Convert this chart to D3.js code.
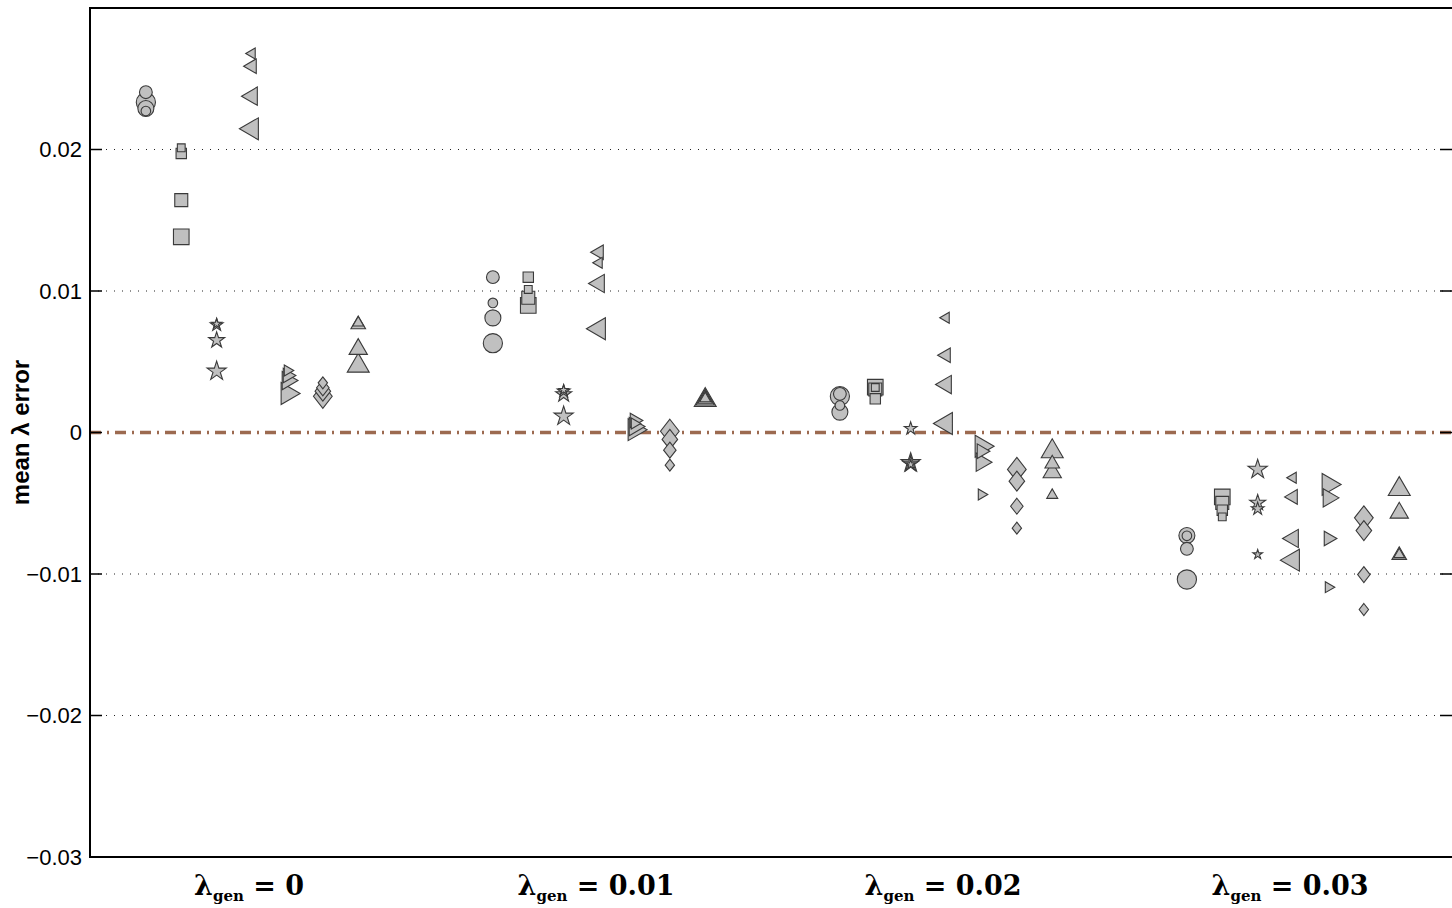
<!DOCTYPE html>
<html>
<head>
<meta charset="utf-8">
<script src="https://cdn.jsdelivr.net/npm/d3@7"></script>
<style>
  body { margin: 0; background: #fff; }
  svg { display: block; }
</style>
</head>
<body>
<div id="chart"></div>
<script>
//DATA
const groups = [0, 0.01, 0.02, 0.03];
const groupLabels = ['0', '0.01', '0.02', '0.03'];
const yTicks = [-0.03, -0.02, -0.01, 0, 0.01, 0.02];
const settings = [1, 2, 3, 4];

// one row per group, four runs each (value, setting)
const circleErr = [[0.02405, 0.02334, 0.02290, 0.02272], [0.01098, 0.00916, 0.00810, 0.00631], [0.00273, 0.00257, 0.00191, 0.00144], [-0.00728, -0.00730, -0.00822, -0.01039]];
const circleSet = [[2, 4, 3, 1], [2, 1, 3, 4], [2, 4, 1, 3], [3, 1, 2, 4]];
const squareErr = [[0.02012, 0.01972, 0.01642, 0.01383], [0.01098, 0.01011, 0.00952, 0.00898], [0.00320, 0.00318, 0.00304, 0.00238], [-0.00455, -0.00497, -0.00549, -0.00596]];
const squareSet = [[1, 2, 3, 4], [2, 1, 3, 4], [4, 1, 3, 2], [4, 3, 2, 1]];
const starErr = [[0.00768, 0.00760, 0.00652, 0.00433], [0.00300, 0.00292, 0.00270, 0.00115], [0.00028, -0.00214, -0.00222, -0.00226], [-0.00261, -0.00497, -0.00539, -0.00862]];
const starSet = [[1, 2, 3, 4], [1, 2, 3, 4], [2, 4, 3, 1], [4, 3, 2, 1]];
const leftErr = [[0.02678, 0.02589, 0.02377, 0.02146], [0.01274, 0.01199, 0.01053, 0.00733], [0.00811, 0.00546, 0.00339, 0.00064], [-0.00320, -0.00455, -0.00749, -0.00902]];
const leftSet = [[1, 2, 3, 4], [2, 1, 3, 4], [1, 2, 3, 4], [1, 2, 3, 4]];
const rightErr = [[0.00438, 0.00403, 0.00367, 0.00276], [0.00085, 0.00064, 0.00042, 0.00020], [-0.00097, -0.00132, -0.00210, -0.00438], [-0.00367, -0.00462, -0.00749, -0.01093]];
const rightSet = [[1, 2, 3, 4], [2, 1, 3, 4], [4, 2, 3, 1], [4, 3, 2, 1]];
const diamondErr = [[0.00351, 0.00316, 0.00292, 0.00256], [-0.00231, -0.00125, -0.00049, 0.00009], [-0.00261, -0.00344, -0.00521, -0.00676], [-0.00603, -0.00693, -0.01004, -0.01251]];
const diamondSet = [[1, 2, 3, 4], [1, 2, 3, 4], [4, 3, 2, 1], [4, 3, 2, 1]];
const upErr = [[0.00775, 0.00763, 0.00589, 0.00471], [0.00240, 0.00236, 0.00232, 0.00228], [-0.00134, -0.00221, -0.00283, -0.00443], [-0.00401, -0.00568, -0.00867, -0.00862]];
const upSet = [[1, 2, 3, 4], [1, 2, 3, 4], [4, 2, 3, 1], [4, 3, 2, 1]];

//MARKER SHAPES (size = marker size in points)
const circle = { draw(c, s) { const r = 0.8 * s; c.moveTo(r, 0); c.arc(0, 0, r, 0, 2 * Math.PI); } };
const square = { draw(c, s) { const h = 0.65 * s; c.rect(-h, -h, 2 * h, 2 * h); } };
const star = { draw(c, s) {
    const R = 0.84 * s, r = R * 0.382;
    for (let i = 0; i < 10; i++) {
        const a = -Math.PI / 2 + i * Math.PI / 5, rr = i % 2 ? r : R;
        i ? c.lineTo(rr * Math.cos(a), rr * Math.sin(a)) : c.moveTo(rr * Math.cos(a), rr * Math.sin(a));
    }
    c.closePath();
} };
const tri = dir => ({ draw(c, s) {
    const d = 1.58 * s, b = 0.915 * s;
    // apex direction, centroid at origin
    const pts = {
        left: [[-2 * d / 3, 0], [d / 3, -b], [d / 3, b]],
        right: [[2 * d / 3, 0], [-d / 3, -b], [-d / 3, b]],
        up: [[0, -2 * d / 3], [-b, d / 3], [b, d / 3]]
    }[dir];
    c.moveTo(...pts[0]); c.lineTo(...pts[1]); c.lineTo(...pts[2]); c.closePath();
} });
const diamond = { draw(c, s) { const w = 0.78 * s, h = 1.0 * s; c.moveTo(0, -h); c.lineTo(w, 0); c.lineTo(0, h); c.lineTo(-w, 0); c.closePath(); } };

const series = [
    { type: circle, err: circleErr, set: circleSet },
    { type: square, err: squareErr, set: squareSet },
    { type: star, err: starErr, set: starSet },
    { type: tri('left'), err: leftErr, set: leftSet },
    { type: tri('right'), err: rightErr, set: rightSet },
    { type: diamond, err: diamondErr, set: diamondSet },
    { type: tri('up'), err: upErr, set: upSet }
];

//LAYOUT
const width = 1452, height = 908;
const margin = { top: 8, right: 0, bottom: 51, left: 90 };
const offsetStep = 0.00102;

const x = d3.scaleLinear().domain([-0.00467, 0.03458]).range([margin.left, width - margin.right]);
const y = d3.scaleLinear().domain([-0.03, 0.03]).range([height - margin.bottom, margin.top]);
const size = d3.scaleOrdinal().domain(settings).range([6, 8, 10, 12]);

const svg = d3.select('#chart').append('svg')
    .attr('width', width)
    .attr('height', height)
    .style('font-family', '"Liberation Sans", Arial, sans-serif');

//GRID
svg.append('g')
    .selectAll('line')
    .data(yTicks.filter(t => t !== 0 && t !== -0.03))
    .join('line')
    .attr('x1', margin.left).attr('x2', width)
    .attr('y1', d => y(d)).attr('y2', d => y(d))
    .attr('stroke', '#222')
    .attr('stroke-width', 1)
    .attr('stroke-dasharray', '1,7');

//ZERO LINE
svg.append('line')
    .attr('x1', margin.left).attr('x2', width)
    .attr('y1', y(0)).attr('y2', y(0))
    .attr('stroke', '#9c6a50')
    .attr('stroke-width', 3.5)
    .attr('stroke-dasharray', '11,6,2,6');

//AXES
const yAxis = svg.append('g')
    .attr('transform', `translate(${margin.left},0)`)
    .call(d3.axisLeft(y).tickValues(yTicks).tickSize(0).tickPadding(8)
        .tickFormat(d => d === 0 ? '0' : d3.format('.2f')(d).replace('-', '–')));
yAxis.select('.domain').remove();
yAxis.selectAll('text').style('font-size', '22px').attr('fill', '#000');

svg.append('g')
    .selectAll('path')
    .data(yTicks.filter(t => t !== -0.03))
    .join('path')
    .attr('d', d => `M${margin.left},${y(d)}h12M${width - 12},${y(d)}h12`)
    .attr('stroke', '#000')
    .attr('stroke-width', 1.3);

svg.append('path')
    .attr('d', `M${width + 5},${margin.top}H${margin.left}V${height - margin.bottom}H${width + 5}`)
    .attr('fill', 'none')
    .attr('stroke', '#000')
    .attr('stroke-width', 2);

svg.append('text')
    .attr('transform', `translate(29,${y(0)}) rotate(-90)`)
    .attr('text-anchor', 'middle')
    .style('font-size', '24px')
    .style('font-weight', 'bold')
    .text('mean λ error');

//GROUP LABELS
const labels = svg.append('g')
    .selectAll('text')
    .data(groups)
    .join('text')
    .attr('x', d => x(d) - 3)
    .attr('y', 895)
    .attr('text-anchor', 'middle')
    .style('font-family', '"DejaVu Serif", "Liberation Serif", serif')
    .style('font-weight', 'bold')
    .style('font-size', '27px');
labels.append('tspan').text('λ');
labels.append('tspan').attr('dy', 6).style('font-size', '15px').text('gen');
labels.append('tspan').attr('dy', -6).text((d, i) => ' = ' + groupLabels[i]);

//MARKERS
const points = [];
series.forEach((s, k) => {
    groups.forEach((g, gi) => {
        s.err[gi].forEach((v, j) => {
            points.push({ type: s.type, x: g + (k - 3) * offsetStep, v: v, set: s.set[gi][j] });
        });
    });
});
points.sort((a, b) => b.set - a.set);

svg.append('g')
    .selectAll('path')
    .data(points)
    .join('path')
    .attr('transform', d => `translate(${x(d.x)},${y(d.v)})`)
    .attr('d', d => d3.symbol().type(d.type).size(size(d.set))())
    .attr('fill', '#c0c0c0')
    .attr('stroke', '#3a3a3a')
    .attr('stroke-width', 1.1);
</script>
</body>
</html>
